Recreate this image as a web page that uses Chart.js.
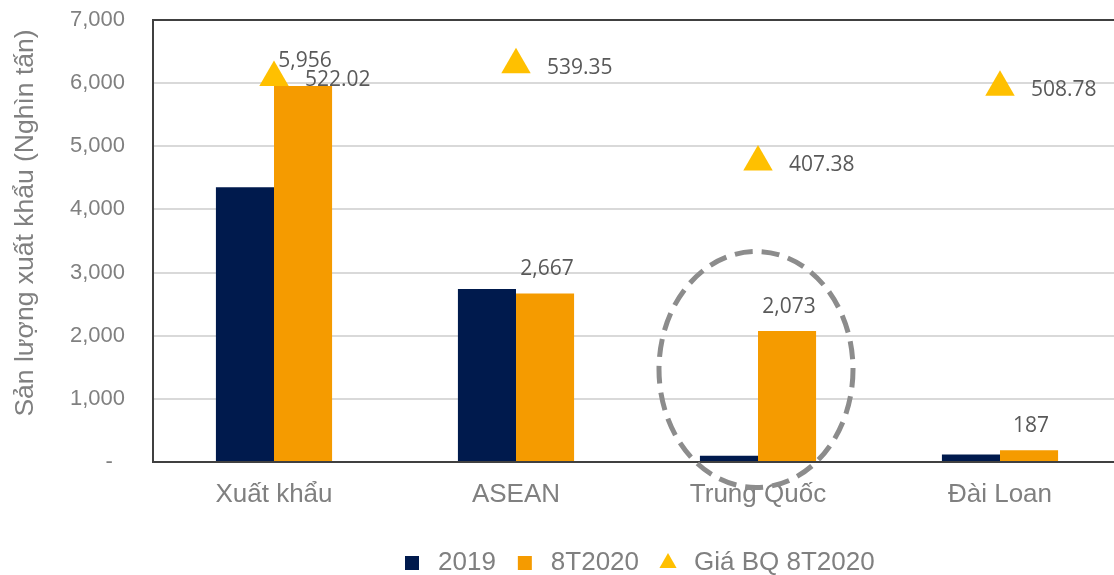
<!DOCTYPE html>
<html>
<head>
<meta charset="utf-8">
<script src="https://cdn.jsdelivr.net/npm/chart.js@4"></script>
<style>
  html, body { margin: 0; padding: 0; background: #fff; overflow: hidden; }
  #c { display: block; }
</style>
</head>
<body>
<canvas id="c" width="1124" height="586"></canvas>
<script>
// Data
const categories = ['Xuất khẩu', 'ASEAN', 'Trung Quốc', 'Đài Loan'];
const values2019 = [4350, 2740, 100, 120];
const values8T2020 = [5956, 2667, 2073, 187];
const priceBQ = [522.02, 539.35, 407.38, 508.78];
const yTicks = [0, 1000, 2000, 3000, 4000, 5000, 6000, 7000];
const yTitle = 'Sản lượng xuất khẩu (Nghìn tấn)';

const NAVY = '#001a4d';
const ORANGE = '#f59b00';
const GOLD = '#ffc000';
const GRAY_TEXT = '#808080';
const LABEL_TEXT = '#595959';
const LEGEND_PAD = 16;

// Data labels for 8T2020 bars and the price markers
const labelPlugin = {
    id: 'valueLabels',
    afterDatasetsDraw(chart) {
        const ctx = chart.ctx;
        ctx.save();
        ctx.font = '21px "Open Sans"';
        ctx.fillStyle = LABEL_TEXT;
        ctx.textBaseline = 'alphabetic';

        chart.getDatasetMeta(1).data.forEach((bar, i) => {
            ctx.textAlign = 'center';
            ctx.fillText(values8T2020[i].toLocaleString('en-US'), bar.x + 2, bar.y - 18.6);
        });
        chart.getDatasetMeta(2).data.forEach((pt, i) => {
            ctx.textAlign = 'left';
            ctx.fillText(priceBQ[i].toFixed(2), pt.x + 31, pt.y + 9);
        });
        ctx.restore();
    }
};

// Plot area frame, axis title, dashed ellipse around Trung Quốc
const framePlugin = {
    id: 'frame',
    afterLayout(chart) {
        // legend sits right of centre in the original: first box at x=399
        const lg = chart.legend;
        const x0 = (lg.left + LEGEND_PAD + lg.right - lg.lineWidths[0]) / 2;
        const shift = 399 - x0;
        lg.left += shift;
        lg.right += shift;
    },
    beforeDatasetsDraw(chart) {
        const { ctx, chartArea: a } = chart;
        ctx.save();
        ctx.strokeStyle = '#404040';
        ctx.lineWidth = 2;
        ctx.strokeRect(a.left, a.top, a.right - a.left, a.bottom - a.top);

        ctx.translate(26, 223);
        ctx.rotate(-Math.PI / 2);
        ctx.font = '26.5px "Liberation Sans", Arial';
        ctx.fillStyle = GRAY_TEXT;
        ctx.textAlign = 'center';
        ctx.textBaseline = 'middle';
        ctx.fillText(yTitle, 0, 0);
        ctx.restore();
    },
    afterDraw(chart) {
        const { ctx } = chart;
        const x = chart.scales.x;
        const y = chart.scales.y;
        const cx = x.getPixelForValue(2) - 2;
        const cy = y.getPixelForValue(1465);
        const rx = 97;
        const ry = 118;
        ctx.save();
        ctx.strokeStyle = '#8c8c8c';
        ctx.lineWidth = 5;
        ctx.setLineDash([18, 9]);
        ctx.beginPath();
        ctx.ellipse(cx, cy, rx, ry, 0, 0, Math.PI * 2);
        ctx.stroke();
        ctx.restore();
    }
};

new Chart(document.getElementById('c'), {
    type: 'bar',
    data: {
        labels: categories,
        datasets: [
            {
                label: '2019',
                data: values2019,
                backgroundColor: NAVY,
                categoryPercentage: 0.48,
                barPercentage: 1,
                yAxisID: 'y',
                order: 2
            },
            {
                label: '8T2020',
                data: values8T2020,
                backgroundColor: ORANGE,
                categoryPercentage: 0.48,
                barPercentage: 1,
                yAxisID: 'y',
                order: 2
            },
            {
                type: 'line',
                label: 'Giá BQ 8T2020',
                data: priceBQ,
                showLine: false,
                pointStyle: 'triangle',
                pointRadius: 17,
                pointHoverRadius: 17,
                pointBackgroundColor: GOLD,
                pointBorderColor: GOLD,
                borderColor: GOLD,
                backgroundColor: GOLD,
                pointBorderWidth: 0,
                yAxisID: 'y1',
                order: 1
            }
        ]
    },
    options: {
        responsive: false,
        animation: false,
        layout: { autoPadding: false, padding: { top: 20, right: 3, left: 0, bottom: 0 } },
        scales: {
            x: {
                // tick marks are hidden; tickLength just pushes labels down
                grid: { display: false, drawTicks: true, tickLength: 17, tickColor: 'rgba(0,0,0,0)' },
                border: { display: false },
                ticks: {
                    color: GRAY_TEXT,
                    font: { family: '"Liberation Sans", Arial', size: 26 },
                    padding: 0
                },
                afterFit: s => {
                    s.height = 72;
                    s.paddingLeft = 0;
                    s.paddingRight = 0;
                }
            },
            y: {
                min: 0,
                max: 7000,
                afterBuildTicks: s => { s.ticks = yTicks.map(v => ({ value: v })); },
                grid: { color: '#d9d9d9', lineWidth: 2, drawTicks: false },
                border: { display: false },
                ticks: {
                    color: GRAY_TEXT,
                    font: { family: '"Liberation Sans", Arial', size: 22 },
                    padding: 28,
                    callback: v => v === 0 ? '-  ' : v.toLocaleString('en-US')
                },
                afterFit: s => {
                    s.width = 153;
                    s.paddingTop = 0;
                    s.paddingBottom = 0;
                }
            },
            y1: {
                display: false,
                min: 0,
                max: 600
            }
        },
        plugins: {
            legend: {
                position: 'bottom',
                labels: {
                    usePointStyle: true,
                    boxHeight: 14,
                    padding: LEGEND_PAD,
                    color: GRAY_TEXT,
                    font: { family: '"Liberation Sans", Arial', size: 26 },
                    generateLabels: chart => chart.data.datasets.map((ds, i) => ({
                        text: ds.label,
                        fillStyle: i === 0 ? NAVY : (i === 1 ? ORANGE : GOLD),
                        strokeStyle: i === 0 ? NAVY : (i === 1 ? ORANGE : GOLD),
                        lineWidth: 0,
                        pointStyle: i === 2 ? 'triangle' : 'rect',
                        fontColor: GRAY_TEXT,
                        datasetIndex: i
                    }))
                }
            },
            tooltip: { enabled: false }
        }
    },
    plugins: [labelPlugin, framePlugin]
});
</script>
</body>
</html>
